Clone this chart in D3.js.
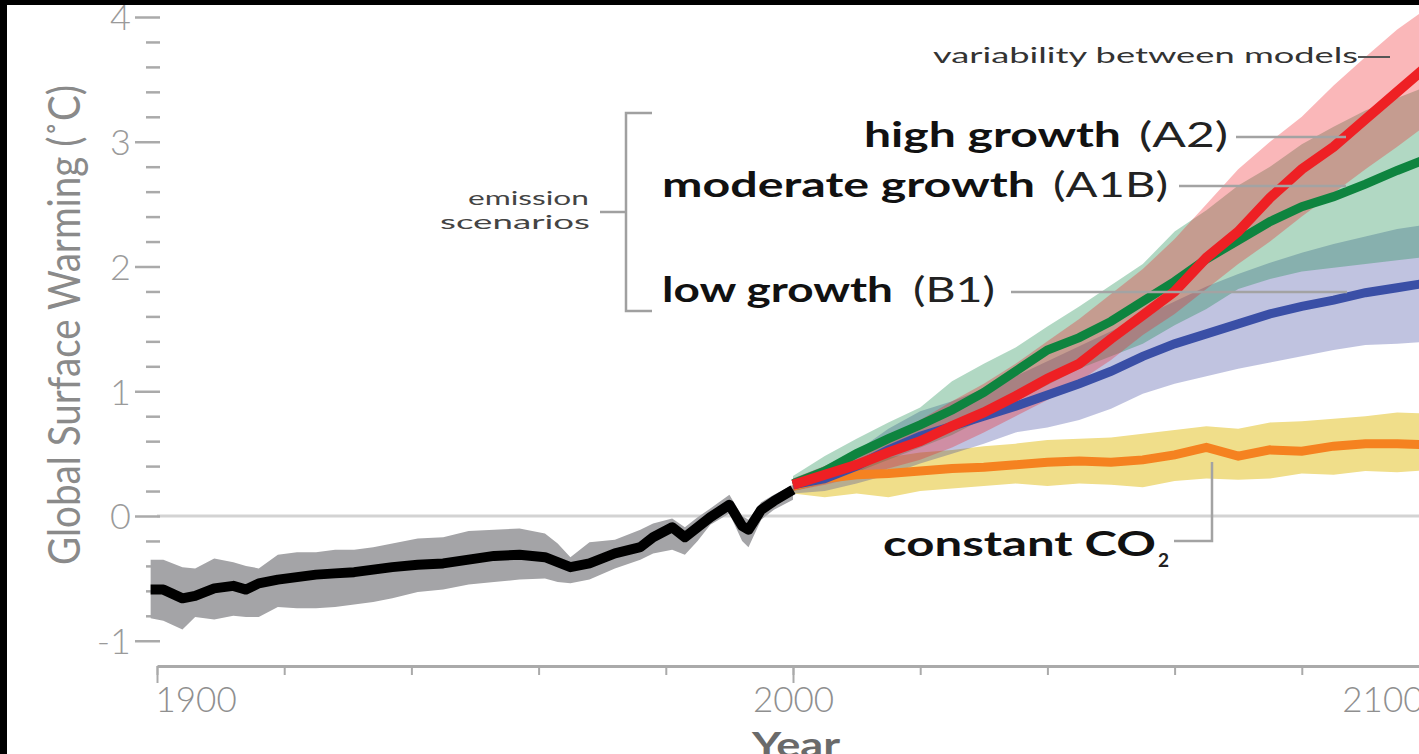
<!DOCTYPE html>
<html>
<head>
<meta charset="utf-8">
<script src="https://cdn.jsdelivr.net/npm/d3@7"></script>
<style>
  html, body { margin: 0; padding: 0; background: #000; }
  svg { display: block; }
</style>
</head>
<body>
<svg id="chart" width="1419" height="754"></svg>
<script>
// ---------------- DATA ----------------
const histYears = [1899,1901,1904,1906,1909,1912,1914,1916,1919,1922,1925,1928,1931,1934,1937,1941,1945,1949,1953,1957,1961,1963,1965,1968,1972,1976,1978,1981,1983,1985,1987,1990,1992,1993,1995,1997,2000];
const histMean  = [-0.59,-0.59,-0.66,-0.64,-0.58,-0.56,-0.59,-0.54,-0.51,-0.49,-0.47,-0.46,-0.45,-0.43,-0.41,-0.39,-0.38,-0.35,-0.32,-0.31,-0.33,-0.37,-0.41,-0.38,-0.30,-0.25,-0.17,-0.09,-0.17,-0.09,-0.01,0.09,-0.08,-0.11,0.05,0.12,0.21];
const histLow   = [-0.82,-0.84,-0.91,-0.81,-0.83,-0.80,-0.81,-0.81,-0.73,-0.74,-0.74,-0.73,-0.71,-0.69,-0.66,-0.61,-0.59,-0.55,-0.53,-0.51,-0.50,-0.53,-0.54,-0.51,-0.42,-0.35,-0.30,-0.27,-0.31,-0.20,-0.07,0.02,-0.20,-0.25,-0.03,0.05,0.13];
const histHigh  = [-0.35,-0.35,-0.41,-0.42,-0.34,-0.37,-0.40,-0.42,-0.31,-0.29,-0.29,-0.27,-0.27,-0.25,-0.22,-0.18,-0.17,-0.12,-0.11,-0.10,-0.14,-0.22,-0.33,-0.21,-0.19,-0.11,-0.06,-0.02,-0.09,-0.01,0.06,0.17,0.00,-0.03,0.11,0.17,0.25];

const projYears = [2000,2005,2010,2015,2020,2025,2030,2035,2040,2045,2050,2055,2060,2065,2070,2075,2080,2085,2090,2095,2100];
// high growth (A2)
const a2Mean = [0.25,0.33,0.41,0.51,0.60,0.72,0.83,0.96,1.10,1.22,1.42,1.61,1.80,2.07,2.28,2.55,2.78,2.96,3.18,3.40,3.62];
const a2Low  = [0.20,0.25,0.31,0.38,0.45,0.55,0.67,0.80,0.93,1.08,1.25,1.45,1.62,1.82,2.02,2.20,2.40,2.59,2.78,2.96,3.15];
const a2High = [0.30,0.40,0.52,0.64,0.77,0.92,1.06,1.22,1.40,1.58,1.78,1.98,2.22,2.50,2.78,3.00,3.20,3.45,3.68,3.90,4.08];
// moderate growth (A1B)
const a1bMean = [0.26,0.36,0.50,0.62,0.73,0.85,0.99,1.16,1.33,1.43,1.56,1.72,1.88,2.06,2.21,2.36,2.48,2.56,2.66,2.77,2.87];
const a1bLow  = [0.20,0.26,0.35,0.45,0.55,0.65,0.78,0.92,1.05,1.18,1.28,1.38,1.53,1.66,1.82,1.90,1.96,1.99,2.02,2.05,2.08];
const a1bHigh = [0.32,0.48,0.62,0.75,0.87,1.08,1.22,1.35,1.52,1.68,1.85,2.02,2.28,2.45,2.65,2.80,2.98,3.12,3.25,3.35,3.45];
// low growth (B1)
const b1Mean = [0.25,0.30,0.40,0.53,0.64,0.72,0.80,0.88,0.97,1.06,1.16,1.28,1.38,1.46,1.54,1.62,1.68,1.73,1.79,1.83,1.87];
const b1Low  = [0.18,0.20,0.26,0.33,0.42,0.50,0.58,0.67,0.71,0.77,0.86,0.98,1.06,1.12,1.18,1.23,1.28,1.33,1.37,1.38,1.40];
const b1High = [0.30,0.40,0.52,0.70,0.84,0.92,1.02,1.12,1.24,1.36,1.48,1.60,1.72,1.84,1.94,2.03,2.11,2.18,2.24,2.30,2.34];
// constant CO2
const co2Mean = [0.24,0.30,0.33,0.34,0.36,0.38,0.39,0.41,0.43,0.44,0.43,0.45,0.49,0.55,0.48,0.53,0.52,0.56,0.58,0.58,0.57];
const co2Low  = [0.18,0.15,0.18,0.15,0.20,0.22,0.24,0.26,0.24,0.26,0.25,0.23,0.28,0.30,0.29,0.30,0.34,0.33,0.36,0.35,0.37];
const co2High = [0.28,0.40,0.45,0.47,0.51,0.53,0.56,0.58,0.61,0.62,0.63,0.66,0.69,0.72,0.70,0.75,0.76,0.78,0.80,0.83,0.82];

const yTickLabels = [-1,0,1,2,3,4];
const xTickLabels = [1900,2000,2100];

// ---------------- CHART ----------------
const W = 1419, H = 754;
const svg = d3.select("#chart");
svg.append("rect").attr("x",7).attr("y",5).attr("width",W-7).attr("height",H-5).attr("fill","#fff");

const x = d3.scaleLinear().domain([1900,2100]).range([157,1429]);
const y = d3.scaleLinear().domain([-1,4]).range([640.75,17]);

const lightFont = "Lato, 'Open Sans', 'Liberation Sans', sans-serif";
const mainFont = "Lato, 'Liberation Sans', 'DejaVu Sans', sans-serif";

// zero line
svg.append("line").attr("x1",x(1900)).attr("x2",W).attr("y1",y(0)).attr("y2",y(0))
  .attr("stroke","#d3d3d3").attr("stroke-width",3);

// y axis (ticks only)
const minorY = d3.range(-5,21).map(i=>i/5).filter(v=>!yTickLabels.includes(Math.round(v*100)/100));
const gyMinor = svg.append("g").attr("transform","translate(160,0)")
  .call(d3.axisLeft(y).tickValues(minorY).tickSize(14).tickFormat(""));
const gyMajor = svg.append("g").attr("transform","translate(160,0)")
  .call(d3.axisLeft(y).tickValues(yTickLabels).tickSize(25).tickPadding(4).tickFormat(d=>d<0?"-"+Math.abs(d):String(d)));
[gyMinor,gyMajor].forEach(g=>{
  g.select(".domain").remove();
  g.selectAll(".tick line").attr("stroke","#aaaaaa").attr("stroke-width",2.5);
});
gyMajor.selectAll(".tick text").attr("x",-29).attr("dy","0.36em")
  .attr("font-family",lightFont).attr("font-weight",300).attr("font-size",36).attr("fill","#9a9a9a");

// x axis
const gx = svg.append("g").attr("transform","translate(0,666)");
const gxMinor = gx.append("g").call(d3.axisBottom(x).tickValues(d3.range(1900,2101,20)).tickSize(9).tickSizeOuter(0).tickFormat(""));
const gxMajor = gx.append("g").call(d3.axisBottom(x).tickValues(xTickLabels).tickSize(17).tickSizeOuter(0).tickFormat(d3.format("d")));
gxMajor.select(".domain").remove();
gxMinor.select(".domain").attr("stroke","#aaaaaa").attr("stroke-width",3);
gx.selectAll(".tick line").attr("stroke","#aaaaaa").attr("stroke-width",2);
gxMajor.selectAll(".tick text")
  .attr("y",46).attr("dy",0)
  .attr("text-anchor",(d,i)=> i===0?"start":(i===xTickLabels.length-1?"end":"middle"))
  .attr("dx",(d,i)=> i===0?-2:(i===xTickLabels.length-1?-6:0))
  .attr("font-family",lightFont).attr("font-weight",300).attr("font-size",35).attr("fill","#8f8f8f");

// axis titles
svg.append("text").attr("transform","translate(80,325) rotate(-90)")
  .attr("text-anchor","middle").attr("font-family",mainFont).attr("font-size",45)
  .attr("fill","#8a8a8a").attr("textLength",480).attr("lengthAdjust","spacingAndGlyphs")
  .text("Global Surface Warming (˚C)");
svg.append("text").attr("x",796).attr("y",757).attr("text-anchor","middle")
  .attr("font-family",mainFont).attr("font-weight",700).attr("font-size",35)
  .attr("fill","#6a6a6a").attr("textLength",88).attr("lengthAdjust","spacingAndGlyphs").text("Year");

// ---------------- BANDS ----------------
function band(years, lo, hi) {
  return d3.area().x((d,i)=>x(years[i])).y0((d,i)=>y(lo[i])).y1((d,i)=>y(hi[i]))(years);
}
function line(years, vals) {
  return d3.line().x((d,i)=>x(years[i])).y((d,i)=>y(vals[i]))(years);
}

svg.append("path").attr("d",band(histYears,histLow,histHigh)).attr("fill","#a4a4a7");
svg.append("path").attr("d",band(projYears,co2Low,co2High)).attr("fill","#f0de8a");
svg.append("path").attr("d",band(projYears,b1Low,b1High)).attr("fill","#3c44a0").attr("fill-opacity",0.32);
svg.append("path").attr("d",band(projYears,a1bLow,a1bHigh)).attr("fill","#13894a").attr("fill-opacity",0.33);
svg.append("path").attr("d",band(projYears,a2Low,a2High)).attr("fill","#ee2024").attr("fill-opacity",0.32);

// ---------------- LINES ----------------
svg.append("path").attr("d",line(histYears,histMean)).attr("fill","none").attr("stroke","#000").attr("stroke-width",10).attr("stroke-linejoin","round");
svg.append("path").attr("d",line(projYears,co2Mean)).attr("fill","none").attr("stroke","#f58220").attr("stroke-width",9);
svg.append("path").attr("d",line(projYears,b1Mean)).attr("fill","none").attr("stroke","#3a4fa6").attr("stroke-width",9);
svg.append("path").attr("d",line(projYears,a1bMean)).attr("fill","none").attr("stroke","#0e843f").attr("stroke-width",9);
svg.append("path").attr("d",line(projYears,a2Mean)).attr("fill","none").attr("stroke","#ee2024").attr("stroke-width",10);

// ---------------- ANNOTATIONS ----------------
const grayLine = "#a3a3a3";
function seg(x1,y1,x2,y2,c,w){ svg.append("line").attr("x1",x1).attr("y1",y1).attr("x2",x2).attr("y2",y2).attr("stroke",c).attr("stroke-width",w); }
function txt(s,xp,yp,size,weight,fill,len,anchor){
  const t = svg.append("text").attr("x",xp).attr("y",yp).attr("font-family",mainFont)
    .attr("font-size",size).attr("font-weight",weight).attr("fill",fill).attr("text-anchor",anchor||"start").text(s);
  if(len) t.attr("textLength",len).attr("lengthAdjust","spacingAndGlyphs");
  return t;
}

// variability between models
txt("variability between models",933,63,22,400,"#333",425);
seg(1358,57,1390,57,"#555",2);

// high growth (A2)
txt("high growth",864,147,34,700,"#111",257);
txt("(A2)",1139,147,34,400,"#222",89);
seg(1236,137,1346,137,grayLine,2.5);

// moderate growth (A1B)
txt("moderate growth",662,197,34,700,"#111",373);
txt("(A1B)",1053,197,34,400,"#222",115);
seg(1179,186,1346,186,grayLine,2.5);

// low growth (B1)
txt("low growth",662,302,34,700,"#111",231);
txt("(B1)",913,302,34,400,"#222",82);
seg(1011,292,1347,292,grayLine,2.5);

// emission scenarios bracket
txt("emission",589,205,20,400,"#444",121,"end");
txt("scenarios",590,229,20,400,"#444",150,"end");
svg.append("path").attr("d","M652,113 H626 V311 H652 M626,212 H600")
  .attr("fill","none").attr("stroke","#a0a0a0").attr("stroke-width",2.5);

// constant CO2
const ct = svg.append("text").attr("x",883).attr("y",556).attr("font-family",mainFont).attr("fill","#111");
ct.append("tspan").attr("font-size",34).attr("font-weight",700).attr("textLength",273).attr("lengthAdjust","spacingAndGlyphs").text("constant CO");
svg.append("text").attr("x",1158).attr("y",567).attr("font-family",mainFont).attr("font-size",19).attr("font-weight",700).attr("fill","#222").text("2");
svg.append("path").attr("d","M1174,541 H1212 V462").attr("fill","none").attr("stroke",grayLine).attr("stroke-width",2.5);
</script>
</body>
</html>
